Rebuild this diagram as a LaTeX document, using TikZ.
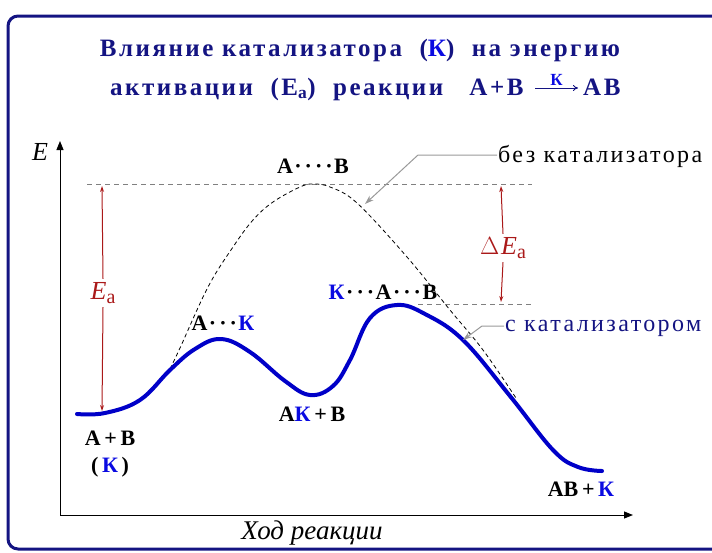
\documentclass[tikz,border=0pt]{standalone}
\usepackage{amsmath}
\usepackage{fontspec}
\setmainfont{Liberation Serif}
\newfontfamily\spaced[LetterSpace=10]{Liberation Serif}
\newfontfamily\headfont[LetterSpace=10]{Liberation Serif}
\usepackage{xcolor}
\usetikzlibrary{arrows.meta,positioning}

\definecolor{framenavy}{RGB}{20,20,130}
\definecolor{kblue}{RGB}{10,10,225}
\definecolor{curveblue}{RGB}{0,0,200}
\definecolor{eared}{RGB}{170,25,25}
\newcommand{\kat}{{\color{kblue}К}}
\newcommand{\dd}{\kern1.5pt·\kern1.5pt}

\begin{document}
\begin{tikzpicture}[x=1pt, y=-1pt,
  title/.style={text=framenavy, font=\headfont\bfseries\fontsize{25}{27}\selectfont, anchor=base},
  species/.style={font=\bfseries\fontsize{22}{24}\selectfont, inner sep=1pt},
  note/.style={font=\spaced\fontsize{24}{26}\selectfont, anchor=base west, inner sep=1pt},
  axis/.style={-{Triangle[length=9pt,width=7pt]}, line width=1pt},
  redarr/.style={-{Stealth[length=6pt,width=4pt]}, eared, line width=1pt},
  rxn/.style={-{To[length=5pt,width=6pt]}, framenavy, line width=1pt},
  level/.style={gray, dashed, dash pattern=on 5pt off 4pt, line width=0.8pt},
  lead/.style={-{Stealth[length=9pt,width=6pt]}, gray!80, line width=1pt},
]
  \useasboundingbox (0,0) rectangle (712,552);
  \draw[framenavy, line width=3pt, rounded corners=10pt] (730,16) -- (8,16) -- (8,549) -- (730,549);

  \node[title] (t1) at (360,56) {Влияние катализатора~~({\color{kblue}К})~~на энергию};
  \node[title, anchor=base east] (t2) at (527,95) {активации~~(E\textsubscript{а})~~реакции~~~A+B};
  \node[title, anchor=base west, inner sep=0pt] (ab) at (583,95) {AB};
  \draw[rxn] ([shift={(8,-7)}]t2.base east) -- node[above=-1pt, font=\bfseries\fontsize{17}{17}\selectfont, text=kblue] (rk) {К} ([shift={(-5,-7)}]ab.base west);

  \coordinate (o) at (60,515);
  \coordinate (ytip) at (60,141);
  \coordinate (xtip) at (633,515);
  \draw[axis] (o) -- (ytip);
  \draw[axis] (o) -- (xtip);
  \node[font=\itshape\fontsize{26}{28}\selectfont] (elab) at (40,152) {E};
  \node[font=\itshape\fontsize{27}{29}\selectfont] (xlab) at (312,533) {Ход реакции};

  \coordinate (top1) at (87,184);
  \coordinate (top2) at (532,184);
  \coordinate (cat1) at (418,304);
  \coordinate (cat2) at (532,304);
  \draw[level] (top1) -- (top2);
  \draw[level] (cat1) -- (cat2);

  \draw[dashed, dash pattern=on 4pt off 3pt, line width=0.8pt] plot[smooth, tension=0.6] coordinates {
    (170,369) (180,348) (208,287) (233,247) (253,220) (273,202) (300,187) (313,184)
    (330,187) (357,203) (407,257) (450,310) (483,350) (516,398)};

  \draw[curveblue, line width=4pt, line cap=round] plot[smooth, tension=0.65] coordinates {
    (77,414) (105,413) (140,400) (170,370) (195,349) (221,339) (250,352) (285,381)
    (310,395) (333,386) (350,360) (370,318) (397,305) (425,314) (463,340) (510,396)
    (553,450) (578,467) (602,471)};

  \node[font=\fontsize{26}{28}\selectfont, text=eared] (ea) at (103,293) {\textit{E}\raisebox{-0.35ex}{\fontsize{20}{22}\selectfont a}};
  \coordinate (eatop) at (102,186);
  \coordinate (eabot) at (102,411);
  \draw[redarr] (ea.north) -- (eatop);
  \draw[redarr] (ea.south) -- (eabot);

  \node[font=\fontsize{26}{28}\selectfont, text=eared] (dea) at (503,248) {$\Delta$\kern2pt\textit{E}\raisebox{-0.35ex}{\fontsize{20}{22}\selectfont a}};
  \coordinate (deatop) at (501,186);
  \coordinate (deabot) at (501,302);
  \draw[redarr] (dea.north) -- (deatop);
  \draw[redarr] (dea.south) -- (deabot);

  \node[species] (ts0) at (313,166) {A\dd\dd\dd\dd B};
  \node[species] (ts1) at (223,323) {A\dd\dd\dd\kat};
  \node[species] (ts2) at (383,292) {\kat\dd\dd\dd A\dd\dd\dd B};
  \node[species] (im) at (312,414) {A\kat\,+\,B};
  \node[species] (re) at (110,438) {A\,+\,B};
  \node[species] (rek) at (110,467) {(\,\kat\,)};
  \node[species] (pr) at (581,489) {AB\,+\,\kat};

  \node[note] (bez) at (497,162) {без катализатора};
  \node[note, text=framenavy] (skat) at (504,331) {с катализатором};
  \coordinate (bend1) at (418,155);
  \coordinate (tip1) at (365,204);
  \coordinate (bend2) at (482,326);
  \coordinate (tip2) at (463,340);
  \draw[lead] (bez.west |- bend1) -- (bend1) -- (tip1);
  \draw[lead] (skat.west |- bend2) -- (bend2) -- (tip2);
\end{tikzpicture}
\end{document}
